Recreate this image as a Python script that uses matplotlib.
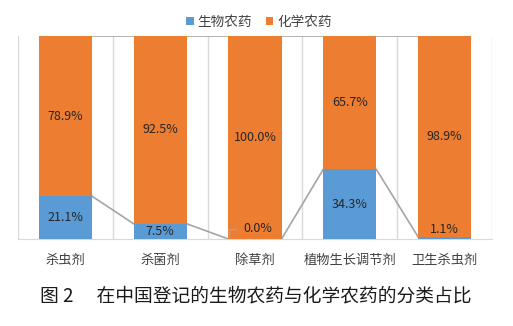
import numpy as np
import matplotlib.pyplot as plt

plt.rcParams['font.family'] = ['Noto Sans CJK SC', 'DejaVu Sans']

# Share of registered products per category (%)
categories = ['杀虫剂', '杀菌剂', '除草剂', '植物生长调节剂', '卫生杀虫剂']
bio = [21.1, 7.5, 0.0, 34.3, 1.1]
chem = [78.9, 92.5, 100.0, 65.7, 98.9]

blue = '#5B9BD5'
orange = '#ED7D31'
grey_line = '#A5A5A5'
grid = '#D9D9D9'

fig = plt.figure(figsize=(5.13, 3.26), dpi=100)
ax = fig.add_axes([18 / 513, 1 - 239 / 326, 474 / 513, 203 / 326])

x = np.arange(len(categories))
w = 0.56
ax.bar(x, bio, w, color=blue, label='生物农药', zorder=3)
ax.bar(x, chem, w, bottom=bio, color=orange, label='化学农药', zorder=3)

# series lines between neighbouring stacks
for i in range(len(categories) - 1):
    ax.plot([i + w / 2, i + 1 - w / 2], [bio[i], bio[i + 1]], color=grey_line, lw=1.2, zorder=2)
    ax.plot([i + w / 2, i + 1 - w / 2], [100, 100], color=grey_line, lw=1.2, zorder=2)

# data labels
lab = dict(ha='center', va='center', fontsize=9, color='#262626', zorder=4)
for i in range(len(categories)):
    ax.text(x[i], bio[i] + chem[i] / 2, f'{chem[i]:.1f}%', **lab)
    if bio[i] >= 3:
        ax.text(x[i], bio[i] / 2, f'{bio[i]:.1f}%', **lab)
    elif bio[i] > 0:
        ax.text(x[i], bio[i] + 3.5, f'{bio[i]:.1f}%', **lab)
    else:
        ax.text(x[i] + 0.03, bio[i] + 5, f'{bio[i]:.1f}%', **lab)
        ax.plot([x[i] - 0.27, x[i] - 0.27, x[i] - 0.2], [0.5, 5, 5], color=grey_line, lw=1, zorder=4)

ax.set_xlim(-0.5, len(categories) - 0.5)
ax.set_ylim(0, 100)
for b in np.arange(-0.5, len(categories), 1.0):
    ax.axvline(b, color=grid, lw=1, zorder=1)
ax.set_xticks(x)
ax.set_xticklabels(categories, fontsize=9.5, color='#404040')
ax.tick_params(axis='x', length=0, pad=11)
ax.set_yticks([])
for s in ['top', 'left', 'right']:
    ax.spines[s].set_visible(False)
ax.spines['bottom'].set_color(grid)

fig.legend(loc='center', bbox_to_anchor=(0.505, 1 - 22 / 326), ncol=2, frameon=False,
           fontsize=9.8, handlelength=0.55, handleheight=0.55, handletextpad=0.3,
           columnspacing=1.0, labelcolor='#404040')

fig.text(40 / 513, 1 - 296 / 326, '图 2\u3000 在中国登记的生物农药与化学农药的分类占比',
         fontsize=13.5, va='center', ha='left', color='#1a1a1a')

fig.savefig('out.png', dpi=100)
